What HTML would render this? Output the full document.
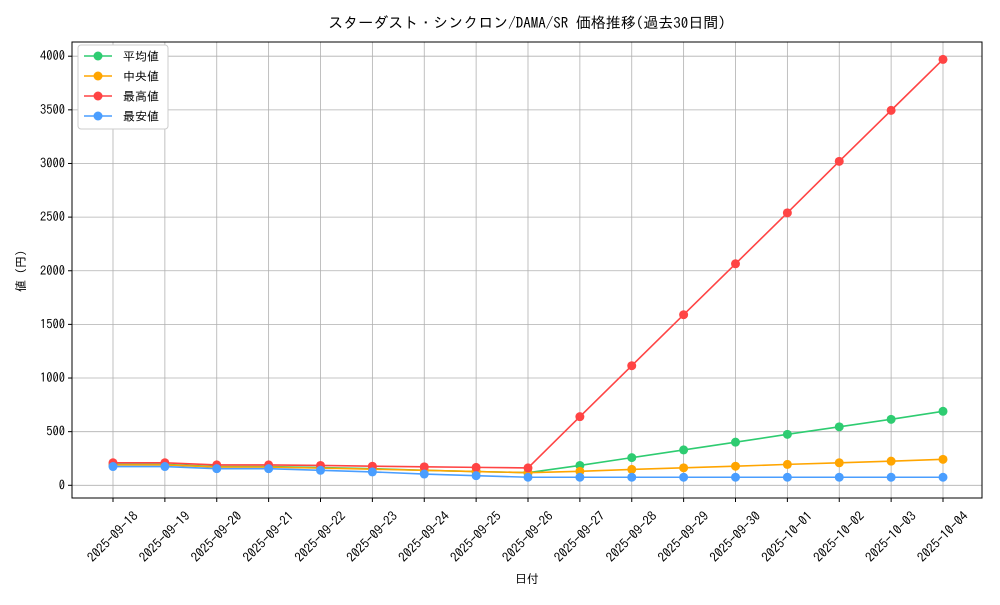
<!DOCTYPE html>
<html><head><meta charset="utf-8"><style>
body{margin:0;background:#fff;}
svg text{font-family:"IPAGothic","Noto Sans CJK JP",sans-serif;fill:#000;}
</style></head><body>
<svg id="chart" width="1000" height="600" xmlns="http://www.w3.org/2000/svg">
<rect width="1000" height="600" fill="#fff"/>
<text x="527" y="28" font-size="15" text-anchor="middle">スターダスト・シンクロン/DAMA/SR 価格推移(過去30日間)</text>
<g id="grid"></g>
<g id="series"></g>
<g id="axes"></g>
<text x="527" y="583" font-size="12" text-anchor="middle">日付</text>
<text transform="translate(25,271) rotate(-90)" font-size="12" text-anchor="middle">値 (円)</text>
<g id="legend"></g>
</svg>
<script>
const dates=["2025-09-18","2025-09-19","2025-09-20","2025-09-21","2025-09-22","2025-09-23","2025-09-24","2025-09-25","2025-09-26","2025-09-27","2025-09-28","2025-09-29","2025-09-30","2025-10-01","2025-10-02","2025-10-03","2025-10-04"];
const avgValues=[195,195,175,175,165,155,140,128,118,185,258,330,402,475,545,615,690];
const medianValues=[190,190,170,170,160,150,140,128,118,130,148,163,178,195,210,225,242];
const maxValues=[210,210,190,190,185,178,172,167,162,640,1115,1590,2065,2540,3020,3495,3970];
const minValues=[175,175,155,155,140,125,105,90,75,75,75,75,75,75,75,75,75];
const yTicks=[0,500,1000,1500,2000,2500,3000,3500,4000];
const seriesNames=["平均値","中央値","最高値","最安値"];
const colors=["#2ecc71","#ffa500","#ff4444","#4a9eff"];
const NS="http://www.w3.org/2000/svg";
const L=72,R=982,T=42,B=498;
const x=i=>113+i*(943-113)/(dates.length-1);
const y=v=>485.3-v*(485.3-56.2)/4000;
function mk(tag,attrs,parent){const e=document.createElementNS(NS,tag);for(const k in attrs)e.setAttribute(k,attrs[k]);parent.appendChild(e);return e;}
const grid=document.getElementById('grid'),axes=document.getElementById('axes'),ser=document.getElementById('series'),leg=document.getElementById('legend');
dates.forEach((d,i)=>{
 const g=mk('line',{x1:x(i),x2:x(i),y1:T,y2:B,stroke:'#b0b0b0','stroke-width':0.8},grid);
 
 
 mk('line',{x1:x(i),x2:x(i),y1:B,y2:B+4,stroke:'#000'},axes);
 const t=mk('text',{x:0,y:4,'font-size':13,'text-anchor':'middle',transform:`translate(${x(i)},${537}) rotate(-45)`},axes);
 t.textContent=d;
 
 
});
yTicks.forEach(v=>{
 const g=mk('line',{x1:L,x2:R,y1:y(v),y2:y(v),stroke:'#b0b0b0','stroke-width':0.8},grid);
 
 
 mk('line',{x1:L-4,x2:L,y1:y(v),y2:y(v),stroke:'#000'},axes);
 const t=mk('text',{x:L-7,y:y(v)+4,'font-size':12.5,'text-anchor':'end'},axes);
 t.textContent=v;
 
 
});
const frame=mk('rect',{x:L,y:T,width:R-L,height:B-T,fill:'none',stroke:'#000','stroke-width':1},axes);


[avgValues,medianValues,maxValues,minValues].forEach((vals,s)=>{
 const g=mk('g',{},ser);
 
 
 const p=mk('polyline',{points:vals.map((v,i)=>x(i)+','+y(v)).join(' '),fill:'none',stroke:colors[s],'stroke-width':1.6},g);
 
 
 vals.forEach((v,i)=>{
  const c=mk('circle',{cx:x(i),cy:y(v),r:4.5,fill:colors[s]},g);
  
  
 });
});
mk('rect',{x:78,y:45,width:90,height:84,rx:3,fill:'#fff',stroke:'#ccc'},leg);
seriesNames.forEach((n,s)=>{
 const yy=56+s*20;
 const e=mk('g',{},leg);
 
 
 mk('line',{x1:84,x2:112,y1:yy,y2:yy,stroke:colors[s],'stroke-width':1.6},e);
 mk('circle',{cx:98,cy:yy,r:4.5,fill:colors[s]},e);
 const t=mk('text',{x:123,y:yy+4.5,'font-size':12},e);
 t.textContent=n;
});
</script>
</body></html>
